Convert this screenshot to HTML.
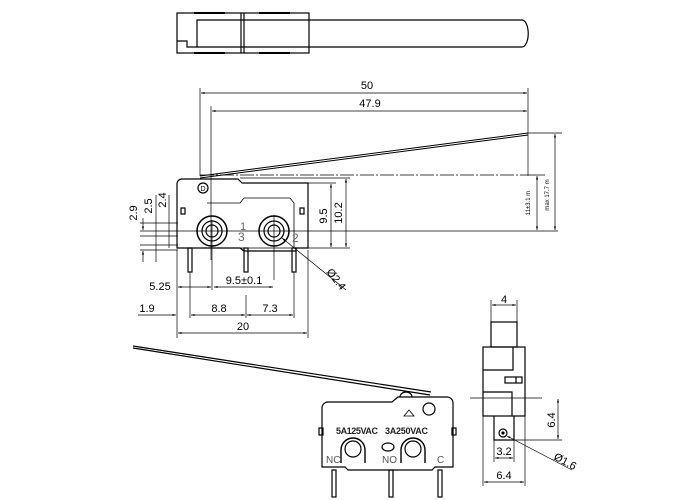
<!DOCTYPE html>
<html><head><style>html,body{margin:0;padding:0;background:#fff;width:700px;height:500px;overflow:hidden}</style></head>
<body>
<svg width="700" height="500" viewBox="0 0 700 500" xmlns="http://www.w3.org/2000/svg" font-family="Liberation Sans, sans-serif" font-size="11" fill="none" stroke="#000" stroke-width="1.2">
<defs>
<marker id="a" viewBox="0 0 10 10" refX="10" refY="5" markerWidth="7" markerHeight="5" orient="auto-start-reverse"><path d="M0,2 L10,5 L0,8z" fill="#000" stroke="none"/></marker>
</defs>
<!-- top view -->
<rect x="177" y="13" width="132" height="40"/>
<path d="M197,20 H522 A6,13 0 0 1 522,47 H197 Z"/>
<path d="M177,41 H187 V47 H197"/>
<line x1="241" y1="13" x2="241" y2="53"/><line x1="244" y1="13" x2="244" y2="53"/>
<path d="M194,13 H225 M259,13 H290 M194,53 H225 M259,53 H290" stroke-width="2"/>
<!-- dims 50 / 47.9 -->
<line x1="200" y1="88" x2="200" y2="176" stroke-width=".7"/>
<line x1="211" y1="106" x2="211" y2="260" stroke-width=".7"/>
<line x1="528" y1="88" x2="528" y2="176" stroke-width=".7"/>
<line x1="201" y1="93" x2="527" y2="93" stroke-width=".7" marker-start="url(#a)" marker-end="url(#a)"/>
<line x1="212" y1="111" x2="527" y2="111" stroke-width=".7" marker-start="url(#a)" marker-end="url(#a)"/>
<text x="367" y="89" fill="#000" stroke="none" text-anchor="middle">50</text>
<text x="370" y="107" fill="#000" stroke="none" text-anchor="middle">47.9</text>
<!-- lever -->
<path d="M200,176 L528,133 M200,178 L528,135" stroke-width="1"/>
<line x1="200" y1="175" x2="528" y2="175" stroke-dasharray="14,2,2,2" stroke-width=".8"/>
<line x1="528" y1="133" x2="562" y2="133" stroke-width=".7"/>
<line x1="528" y1="175" x2="545" y2="175" stroke-width=".7"/>
<!-- main body -->
<path d="M182,179 H238 L242,183 H308 V248 H296 V251 H244 L240,248 H177 V184 A5,5 0 0 1 182,179 Z"/>
<path d="M207,203 H240 L244,198 H290 L294,203 V248" stroke-width=".8"/>
<circle cx="203" cy="188" r="5"/>
<text x="203" y="191" font-size="7" fill="#000" stroke="none" text-anchor="middle">D</text>
<rect x="181" y="208" width="4" height="6"/><rect x="300" y="208" width="4" height="6"/>
<circle cx="212" cy="231" r="15" stroke-width="1.5"/><circle cx="212" cy="231" r="10"/><circle cx="212" cy="231" r="6"/>
<circle cx="274" cy="231" r="15" stroke-width="1.5"/><circle cx="274" cy="231" r="10"/><circle cx="274" cy="231" r="6"/>
<text x="240" y="230" font-size="11" fill="#666" stroke="none">1</text>
<text x="238" y="241" font-size="12" fill="#666" stroke="none">3</text>
<text x="292" y="242" font-size="12" fill="#666" stroke="none">2</text>
<rect x="188" y="248" width="4" height="24"/><rect x="244" y="248" width="4" height="24"/><rect x="292" y="248" width="4" height="24"/>
<!-- center line -->
<line x1="140" y1="231" x2="558" y2="231" stroke-width=".7"/>
<line x1="274" y1="215" x2="274" y2="280" stroke-width=".7"/>
<line x1="212" y1="220" x2="212" y2="290" stroke-width=".7"/>
<!-- right dims -->
<line x1="242" y1="183" x2="336" y2="183" stroke-width=".7"/>
<line x1="240" y1="178" x2="350" y2="178" stroke-width=".7"/>
<line x1="177" y1="248" x2="350" y2="248" stroke-width=".7"/>
<line x1="331" y1="184" x2="331" y2="247" stroke-width=".7" marker-start="url(#a)" marker-end="url(#a)"/>
<line x1="346" y1="179" x2="346" y2="247" stroke-width=".7" marker-start="url(#a)" marker-end="url(#a)"/>
<text transform="translate(327,216) rotate(-90)" fill="#000" stroke="none" text-anchor="middle">9.5</text>
<text transform="translate(342,213) rotate(-90)" fill="#000" stroke="none" text-anchor="middle">10.2</text>
<line x1="537" y1="176" x2="537" y2="230" stroke-width=".7" marker-start="url(#a)" marker-end="url(#a)"/>
<line x1="555" y1="134" x2="555" y2="230" stroke-width=".7" marker-start="url(#a)" marker-end="url(#a)"/>
<text transform="translate(530,203) rotate(-90)" font-size="6" fill="#000" stroke="none" text-anchor="middle">11±3.1 m</text>
<text transform="translate(549,195) rotate(-90)" font-size="6" fill="#000" stroke="none" text-anchor="middle">max 17.7 m</text>
<!-- left dims -->
<line x1="140" y1="223" x2="178" y2="223" stroke-width=".7"/>
<line x1="140" y1="236" x2="178" y2="236" stroke-width=".7"/>
<line x1="140" y1="245" x2="178" y2="245" stroke-width=".7"/>
<line x1="140" y1="250" x2="178" y2="250" stroke-width=".7"/>
<line x1="143" y1="218" x2="143" y2="230" stroke-width=".7" marker-end="url(#a)"/>
<line x1="143" y1="262" x2="143" y2="251" stroke-width=".7" marker-end="url(#a)"/>
<line x1="156" y1="195" x2="156" y2="262" stroke-width=".7"/>
<line x1="169" y1="195" x2="169" y2="248" stroke-width=".7"/>
<text transform="translate(137,213) rotate(-90)" fill="#000" stroke="none" text-anchor="middle">2.9</text>
<text transform="translate(152,206) rotate(-90)" fill="#000" stroke="none" text-anchor="middle">2.5</text>
<text transform="translate(166,200) rotate(-90)" fill="#000" stroke="none" text-anchor="middle">2.4</text>
<!-- bottom dims -->
<line x1="177" y1="250" x2="177" y2="338" stroke-width=".7"/>
<line x1="308" y1="250" x2="308" y2="338" stroke-width=".7"/>
<line x1="190" y1="272" x2="190" y2="318" stroke-width=".7"/>
<line x1="246" y1="295" x2="246" y2="318" stroke-width=".7"/>
<line x1="294" y1="272" x2="294" y2="318" stroke-width=".7"/>
<line x1="178" y1="287" x2="211" y2="287" stroke-width=".7" marker-start="url(#a)" marker-end="url(#a)"/>
<line x1="214" y1="287" x2="273" y2="287" stroke-width=".7" marker-start="url(#a)" marker-end="url(#a)"/>
<text x="160" y="290" fill="#000" stroke="none" text-anchor="middle">5.25</text>
<text x="244" y="284" fill="#000" stroke="none" text-anchor="middle">9.5±0.1</text>
<line x1="138" y1="315" x2="176" y2="315" stroke-width=".7" marker-end="url(#a)"/>
<line x1="191" y1="315" x2="245" y2="315" stroke-width=".7" marker-start="url(#a)" marker-end="url(#a)"/>
<line x1="247" y1="315" x2="293" y2="315" stroke-width=".7" marker-start="url(#a)" marker-end="url(#a)"/>
<text x="147" y="312" fill="#000" stroke="none" text-anchor="middle">1.9</text>
<text x="219" y="312" fill="#000" stroke="none" text-anchor="middle">8.8</text>
<text x="270" y="312" fill="#000" stroke="none" text-anchor="middle">7.3</text>
<line x1="178" y1="333" x2="307" y2="333" stroke-width=".7" marker-start="url(#a)" marker-end="url(#a)"/>
<text x="243" y="330" fill="#000" stroke="none" text-anchor="middle">20</text>
<line x1="346" y1="290" x2="282" y2="238" stroke-width=".7" marker-end="url(#a)"/>
<text transform="translate(326,272) rotate(52)" fill="#000" stroke="none">Ø2.4</text>
<!-- bottom-left view -->
<path d="M133,346 L431,392 M133,348 L430,395" stroke-width="1.2"/>
<path d="M328,402 H392 L398,397 H447 A6,6 0 0 1 453,403 V467 H435 L432,470 H348 L345,467 H322 V408 A6,6 0 0 1 328,402 Z"/>
<path d="M400,397 A6,5 0 0 1 412,397"/>
<circle cx="429" cy="409" r="6"/>
<path d="M404,416 L409,410 L414,416 Z" stroke-width=".8"/>
<rect x="319" y="428" width="4" height="7"/><rect x="452" y="428" width="4" height="7"/>
<path d="M341,463 V450 A12,12 0 0 1 365,450 V463" stroke-width="1.4"/><circle cx="353" cy="449" r="8"/>
<path d="M401,463 V450 A12,12 0 0 1 425,450 V463" stroke-width="1.4"/><circle cx="413" cy="449" r="8"/>
<ellipse cx="388" cy="447" rx="6" ry="4"/>
<text x="336" y="434" font-size="9" font-weight="bold" fill="#222" stroke="none" textLength="42">5A125VAC</text>
<text x="385" y="434" font-size="9" font-weight="bold" fill="#222" stroke="none" textLength="43">3A250VAC</text>
<text x="326" y="463" font-size="10" fill="#555" stroke="none">NC</text>
<text x="382" y="463" font-size="10" fill="#555" stroke="none">NO</text>
<text x="437" y="463" font-size="10" fill="#555" stroke="none">C</text>
<rect x="332" y="470" width="4" height="27"/><rect x="389" y="470" width="4" height="27"/><rect x="438" y="470" width="4" height="27"/>
<!-- side view -->
<rect x="491" y="322" width="26" height="25"/>
<rect x="483" y="347" width="42" height="69"/>
<path d="M483,370 H513 V347 M483,392 H512 V416"/>
<rect x="505" y="377" width="17" height="6"/><line x1="516" y1="377" x2="516" y2="383"/>
<path d="M494,416 V440 H514 V416"/>
<circle cx="503" cy="433" r="4"/><circle cx="503" cy="433" r="1" fill="#000"/>
<line x1="491" y1="300" x2="491" y2="322" stroke-width=".7"/><line x1="517" y1="300" x2="517" y2="322" stroke-width=".7"/>
<line x1="492" y1="305" x2="516" y2="305" stroke-width=".7" marker-start="url(#a)" marker-end="url(#a)"/>
<text x="504" y="303" fill="#000" stroke="none" text-anchor="middle">4</text>
<line x1="470" y1="398" x2="542" y2="398" stroke-width=".7"/>
<line x1="514" y1="440" x2="562" y2="440" stroke-width=".7"/>
<line x1="558" y1="399" x2="558" y2="439" stroke-width=".7" marker-start="url(#a)" marker-end="url(#a)"/>
<text transform="translate(555,420) rotate(-90)" fill="#000" stroke="none" text-anchor="middle">6.4</text>
<line x1="494" y1="440" x2="494" y2="462" stroke-width=".7"/><line x1="514" y1="440" x2="514" y2="462" stroke-width=".7"/>
<line x1="495" y1="458" x2="513" y2="458" stroke-width=".7" marker-start="url(#a)" marker-end="url(#a)"/>
<text x="504" y="455" fill="#000" stroke="none" text-anchor="middle">3.2</text>
<line x1="483" y1="416" x2="483" y2="486" stroke-width=".7"/><line x1="525" y1="416" x2="525" y2="486" stroke-width=".7"/>
<line x1="484" y1="482" x2="524" y2="482" stroke-width=".7" marker-start="url(#a)" marker-end="url(#a)"/>
<text x="504" y="479" fill="#000" stroke="none" text-anchor="middle">6.4</text>
<line x1="572" y1="470" x2="507" y2="436" stroke-width=".7" marker-end="url(#a)"/>
<text transform="translate(553,459) rotate(28)" fill="#000" stroke="none">Ø1.6</text>
</svg>
</body></html>
